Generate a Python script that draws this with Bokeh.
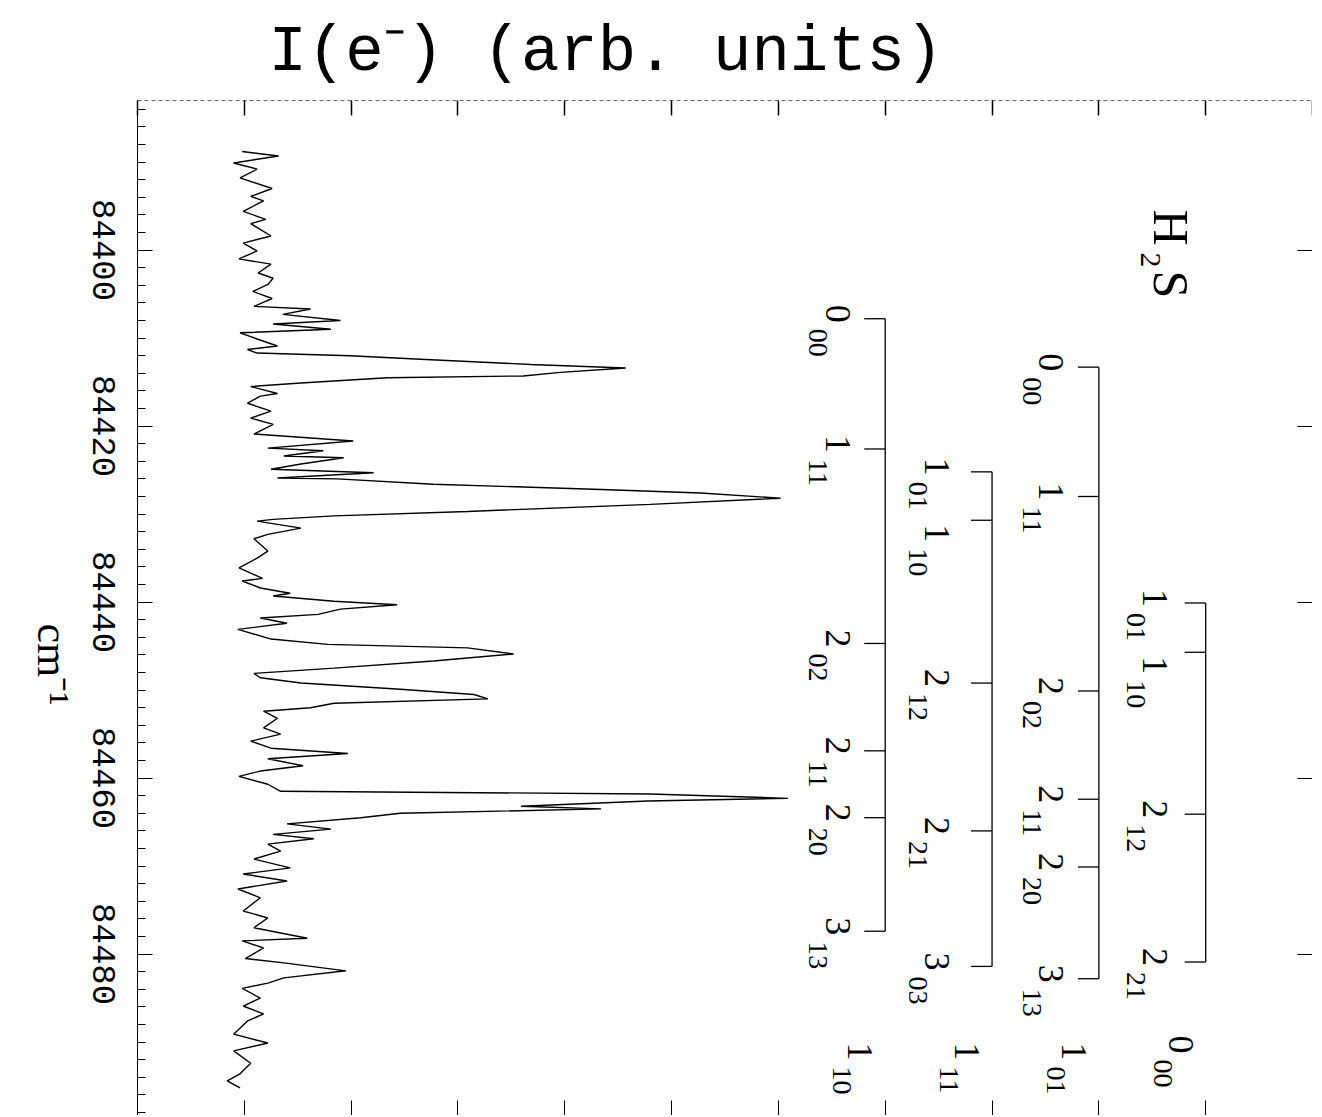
from math import pi
from bokeh.plotting import figure
from bokeh.models import (Range1d, LinearAxis, SingleIntervalTicker, FixedTicker,
                          CustomJSTickFormatter, Label, ColumnDataSource)
from bokeh.core.properties import value
from bokeh.embed import file_html
from bokeh.resources import INLINE

# ---------------- data ----------------
# photo-electron yield spectrum: wavenumber (cm^-1) and intensity (arb. units)
wavenumber = [
    84388.8, 84389.3, 84390.1, 84390.8, 84391.8, 84393.0, 84393.9, 84394.4, 84395.6, 84396.5,
    84397.0, 84398.4, 84399.2, 84400.1, 84401.0, 84401.6, 84402.6, 84403.2, 84403.9, 84404.7,
    84405.5, 84406.4, 84406.7, 84407.3, 84408.0, 84408.4, 84409.0, 84409.4, 84410.1, 84410.9,
    84411.3, 84411.7, 84412.0, 84412.4, 84413.0, 84413.4, 84413.9, 84414.3, 84414.5, 84415.1,
    84415.5, 84416.3, 84416.6, 84417.4, 84418.3, 84419.1, 84419.8, 84420.9, 84421.7, 84422.5,
    84422.8, 84423.4, 84423.6, 84424.3, 84424.9, 84425.3, 84425.9, 84426.0, 84426.6, 84427.2,
    84427.6, 84428.2, 84428.9, 84429.7, 84430.2, 84430.6, 84430.8, 84431.6, 84432.3, 84432.8,
    84434.2, 84435.0, 84436.1, 84437.3, 84437.6, 84438.4, 84439.0, 84439.3, 84439.9, 84440.3,
    84440.8, 84441.4, 84441.8, 84442.4, 84443.1, 84444.2, 84444.8, 84445.2, 84445.9, 84446.7,
    84447.5, 84448.1, 84448.6, 84449.2, 84449.9, 84450.5, 84451.0, 84451.5, 84452.0, 84452.4,
    84453.2, 84454.3, 84455.0, 84455.8, 84456.6, 84457.2, 84457.8, 84458.6, 84459.2, 84459.8,
    84460.7, 84461.5, 84461.8, 84462.3, 84462.6, 84463.2, 84463.5, 84464.0, 84464.5, 84465.2,
    84465.8, 84466.4, 84466.9, 84467.5, 84468.3, 84469.2, 84470.2, 84470.9, 84471.7, 84472.6,
    84473.6, 84475.1, 84475.9, 84477.0, 84478.2, 84478.5, 84479.3, 84480.5, 84481.0, 84481.9,
    84482.7, 84483.3, 84483.9, 84485.0, 84485.9, 84486.8, 84487.6, 84489.1, 84490.1, 84491.0,
    84492.4, 84493.6, 84494.4, 84495.2]
intensity = [
    0.98, 1.32, 0.90, 1.12, 0.96, 1.26, 1.06, 1.18, 0.99, 1.20,
    1.06, 1.25, 0.99, 1.12, 0.95, 1.25, 1.13, 1.27, 1.22, 1.08,
    1.26, 1.09, 1.62, 1.36, 1.90, 1.27, 1.81, 0.96, 1.12, 1.31,
    1.03, 1.12, 1.99, 2.65, 3.68, 4.57, 3.96, 3.61, 2.34, 1.53,
    1.06, 1.31, 1.15, 1.03, 1.25, 1.06, 1.27, 1.09, 2.02, 1.22,
    1.74, 1.37, 1.93, 1.53, 1.25, 2.21, 1.31, 1.87, 2.77, 4.34,
    5.27, 6.02, 4.80, 3.09, 1.84, 1.27, 1.12, 1.53, 1.22, 1.09,
    1.22, 1.12, 0.95, 1.17, 0.98, 1.15, 1.43, 1.27, 1.84, 2.43,
    1.90, 1.69, 1.15, 1.40, 0.94, 1.25, 1.78, 3.09, 3.52, 2.77,
    1.84, 1.09, 1.15, 1.53, 2.46, 3.15, 3.28, 1.84, 1.62, 1.18,
    1.31, 1.18, 1.34, 1.06, 1.25, 1.97, 1.22, 1.55, 1.15, 0.95,
    1.22, 1.34, 4.80, 6.09, 4.78, 3.59, 4.34, 2.46, 2.09, 1.40,
    1.81, 1.27, 1.65, 1.22, 1.34, 1.09, 1.43, 0.99, 1.40, 0.94,
    1.15, 0.99, 1.22, 1.09, 1.59, 0.98, 1.18, 1.01, 1.37, 1.95,
    1.37, 1.22, 0.98, 1.15, 0.99, 1.18, 1.03, 0.90, 1.22, 0.90,
    1.06, 0.96, 0.84, 0.96]

# rotational assignment ladders (line positions in cm^-1, J and KaKc labels)
ladder_a_pos = [84407.8, 84422.6, 84444.7, 84456.9, 84464.5, 84477.4]
ladder_a_j = ["0", "1", "2", "2", "2", "3"]
ladder_a_k = ["00", "11", "02", "11", "20", "13"]
ladder_a_lower = ("1", "10")

ladder_b_pos = [84425.2, 84430.7, 84449.2, 84466.0, 84481.4]
ladder_b_j = ["1", "1", "2", "2", "3"]
ladder_b_k = ["01", "10", "12", "21", "03"]
ladder_b_lower = ("1", "11")

ladder_c_pos = [84413.3, 84428.0, 84450.1, 84462.4, 84470.1, 84482.8]
ladder_c_j = ["0", "1", "2", "2", "2", "3"]
ladder_c_k = ["00", "11", "02", "11", "20", "13"]
ladder_c_lower = ("1", "01")

ladder_d_pos = [84440.1, 84445.7, 84464.1, 84480.9]
ladder_d_j = ["1", "1", "2", "2"]
ladder_d_k = ["01", "10", "12", "21"]
ladder_d_lower = ("0", "00")

wn_major_ticks = [84400, 84420, 84440, 84460, 84480]
wn_major = 20   # cm^-1 between labelled ticks
wn_minor = 10   # minor divisions

# ---------------- layout ----------------
FRAME_LEFT_PX = 137
FRAME_TOP_PX = 100
FRAME_W = 1175
FRAME_H = 1015
I_MAX = 11.0
W_TOP = 84383.0
PX_PER_W = 8.8
W_BOTTOM = W_TOP + FRAME_H / PX_PER_W
PX_PER_I = FRAME_W / I_MAX


def wy(py):
    return W_TOP + (py - FRAME_TOP_PX) / PX_PER_W


def ix(px):
    return (px - FRAME_LEFT_PX) / PX_PER_I


p = figure(frame_width=FRAME_W, frame_height=FRAME_H,
           x_range=Range1d(0, I_MAX), y_range=Range1d(W_BOTTOM, W_TOP),
           output_backend="svg", toolbar_location=None,
           min_border_left=FRAME_LEFT_PX, min_border_top=FRAME_TOP_PX,
           min_border_right=0, min_border_bottom=0)
p.outline_line_color = None
p.grid.visible = False
p.background_fill_color = "white"
p.border_fill_color = "white"

# title (intensity axis label)
p.title.text = "I(e\u207b) (arb. units)"
p.title.text_font = "Liberation Mono"
p.title.text_font_size = "64px"
p.title.text_font_style = "normal"
p.title.text_color = "black"
p.title.align = "left"
p.title.vertical_align = "top"
p.title.offset = 268 - FRAME_LEFT_PX
p.title.standoff = 19

empty = CustomJSTickFormatter(code="return ''")

# left axis: ticks and frame line
ya = p.yaxis[0]
ya.ticker = SingleIntervalTicker(interval=wn_major, num_minor_ticks=wn_minor)
ya.formatter = empty
ya.major_label_text_font_size = "0px"
ya.major_label_standoff = 0
ya.major_tick_in = 15
ya.major_tick_out = 0
ya.minor_tick_in = 8
ya.minor_tick_out = 0
ya.axis_line_color = "black"
ya.major_tick_line_color = "black"
ya.minor_tick_line_color = "black"

# left axis: tick labels, read top-to-bottom and centred on their ticks
half_label = 51 / PX_PER_W
lab_axis = LinearAxis(
    ticker=FixedTicker(ticks=[t + half_label for t in wn_major_ticks]),
    formatter=CustomJSTickFormatter(args=dict(shift=half_label),
                                    code="return (tick - shift).toFixed(0);"),
    major_label_orientation=-pi / 2,
    major_label_text_font="Liberation Mono",
    major_label_text_font_size="34px",
    major_label_text_color="black",
    major_label_standoff=28,
    major_tick_line_color=None, minor_tick_line_color=None,
    axis_line_color=None,
)
p.add_layout(lab_axis, "left")

# left axis: unit name, ending at the position it has in the picture
unit_end = wy(705)
unit_axis = LinearAxis(
    ticker=FixedTicker(ticks=[unit_end]),
    formatter=CustomJSTickFormatter(code="return 'cm\u207b\u00b9';"),
    major_label_orientation=-pi / 2,
    major_label_text_font="Liberation Serif",
    major_label_text_font_size="44px",
    major_label_text_color="black",
    major_label_standoff=20,
    major_tick_line_color=None, minor_tick_line_color=None,
    axis_line_color=None,
)
p.add_layout(unit_axis, "left")

# bottom axis: ticks only
xa = p.xaxis[0]
xa.ticker = SingleIntervalTicker(interval=1, num_minor_ticks=0)
xa.formatter = empty
xa.major_label_text_font_size = "0px"
xa.major_label_standoff = 0
xa.major_tick_in = 15
xa.major_tick_out = 0
xa.minor_tick_line_color = None
xa.axis_line_color = None
xa.major_tick_line_color = "black"

# top axis: ticks only (intensity)
top = LinearAxis(ticker=SingleIntervalTicker(interval=1, num_minor_ticks=0),
                 formatter=empty, major_label_text_font_size="0px",
                 major_label_standoff=0, major_tick_in=15, major_tick_out=0,
                 minor_tick_line_color=None, axis_line_color="#666666",
                 axis_line_dash="4 3", major_tick_line_color="black",
                 major_tick_line_width=1.5)
p.add_layout(top, "above")

# right axis: ticks only
right = LinearAxis(ticker=SingleIntervalTicker(interval=wn_major, num_minor_ticks=0),
                   formatter=empty, major_label_text_font_size="0px",
                   major_label_standoff=0, major_tick_in=15, major_tick_out=0,
                   minor_tick_line_color=None, axis_line_color="#333333",
                   major_tick_line_color="black")
p.add_layout(right, "right")

# spectrum
p.line(intensity, wavenumber, line_color="black", line_width=1.4)

# ladders: (x position, lines, J, KaKc, lower state, label offsets in px)
ladders = [
    (7.0, ladder_a_pos, ladder_a_j, ladder_a_k, ladder_a_lower, -47, -67, 1042),
    (8.0, ladder_b_pos, ladder_b_j, ladder_b_k, ladder_b_lower, -55, -74, 1042),
    (9.0, ladder_c_pos, ladder_c_j, ladder_c_k, ladder_c_lower, -48, -67, 1042),
    (10.0, ladder_d_pos, ladder_d_j, ladder_d_k, ladder_d_lower, -51, -70, 1035),
]
TICK_LEN = 21 / PX_PER_I

seg = dict(x0=[], x1=[], y0=[], y1=[])
main = dict(x=[], y=[], text=[])
sub = dict(x=[], y=[], text=[])
for lx, pos, js, ks, lower, moff, soff, low_y in ladders:
    seg["x0"].append(lx); seg["x1"].append(lx)
    seg["y0"].append(pos[0]); seg["y1"].append(pos[-1])
    prev = None
    for w, j, k in zip(pos, js, ks):
        seg["x0"].append(lx - TICK_LEN); seg["x1"].append(lx)
        seg["y0"].append(w); seg["y1"].append(w)
        # a label crowded by the one above it is pushed down
        push = 18 if (prev is not None and (w - prev) * PX_PER_W < 60) else 0
        prev = w
        main["x"].append(lx + moff / PX_PER_I)
        main["y"].append(w + (push - 14) / PX_PER_W)
        main["text"].append(j)
        sub["x"].append(lx + soff / PX_PER_I)
        sub["y"].append(w + (push + 10) / PX_PER_W)
        sub["text"].append(k)
    main["x"].append(lx - 25 / PX_PER_I)
    main["y"].append(wy(low_y))
    main["text"].append(lower[0])
    sub["x"].append(lx - 43 / PX_PER_I)
    sub["y"].append(wy(low_y + 24))
    sub["text"].append(lower[1])

p.segment(x0="x0", x1="x1", y0="y0", y1="y1", source=ColumnDataSource(seg),
          line_color="black", line_width=1.3)
p.text(x="x", y="y", text="text", source=ColumnDataSource(main), angle=-pi / 2,
       text_font=value("Liberation Serif"), text_font_size=value("36px"),
       text_align="left", text_baseline="alphabetic", text_color="black")
p.text(x="x", y="y", text="text", source=ColumnDataSource(sub), angle=-pi / 2,
       text_font=value("Liberation Serif"), text_font_size=value("28px"),
       text_align="left", text_baseline="alphabetic", text_color="black")

# molecule label H2S
for txt, px, py, size in [("H", 1170, 209, "50px"), ("2", 1150, 252, "30px"),
                          ("S", 1170, 270, "50px")]:
    p.add_layout(Label(x=ix(px), y=wy(py), text=txt, angle=-pi / 2,
                       text_font="Liberation Serif", text_font_size=size,
                       text_align="left", text_baseline="alphabetic",
                       text_color="black"))

open("out.html", "w").write(file_html(p, INLINE))
